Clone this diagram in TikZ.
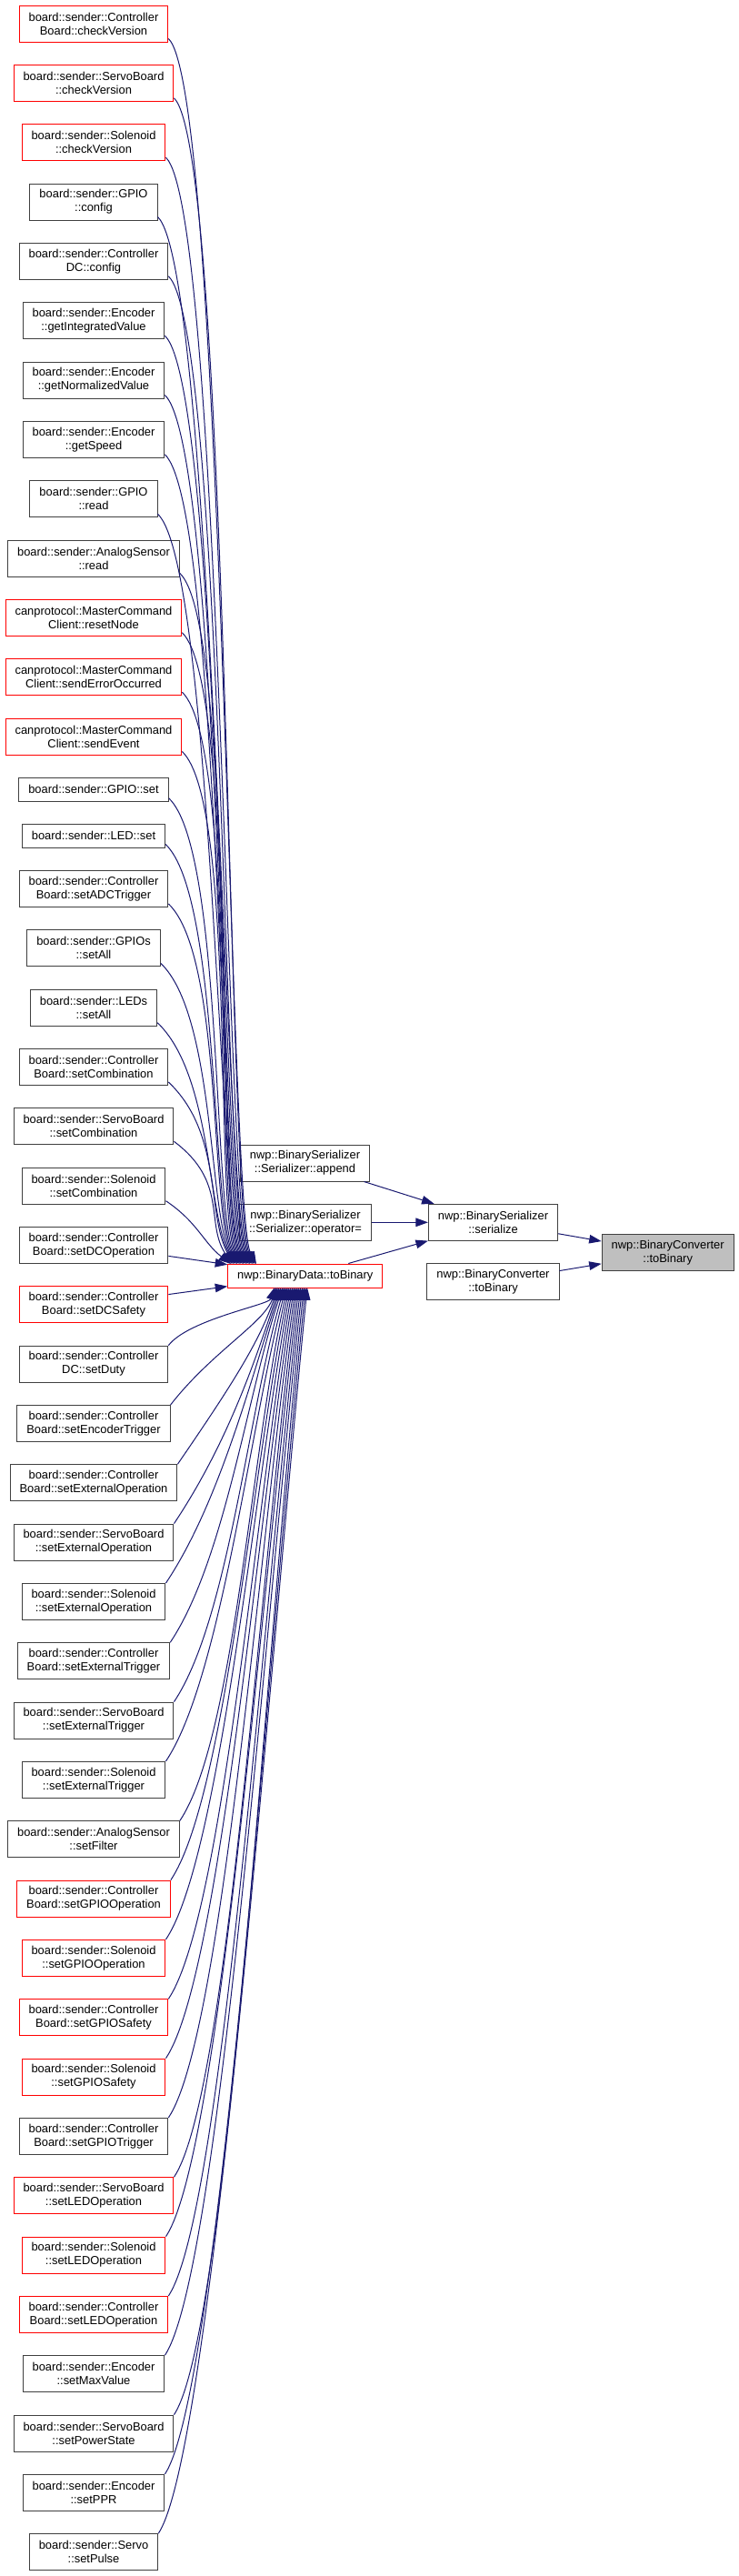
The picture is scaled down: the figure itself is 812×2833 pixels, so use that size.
\documentclass[tikz,border=0pt]{standalone}
\usepackage{fontspec}
\setmainfont{Liberation Sans}
\usepackage{tikz}
\usetikzlibrary{calc,arrows.meta}
\definecolor{edgeblue}{HTML}{191970}
\definecolor{boxgrey}{HTML}{404040}
\definecolor{curgrey}{HTML}{BFBFBF}

\begin{document}
\begin{tikzpicture}[x=1pt,y=-1pt,
  fn/.style={draw=boxgrey,line width=1pt,fill=white,align=center,inner xsep=10.5pt,inner ysep=2pt,
    minimum height=40pt,font=\fontsize{12.9}{15}\selectfont},
  fnred/.style={fn,draw=red},
  fnone/.style={fn,minimum height=26pt},
  fncur/.style={fn,fill=curgrey},
  call/.style={draw=edgeblue,line width=1pt,-{Triangle[length=13.5pt,width=9.5pt]}}]
  \useasboundingbox[fill=white] (0,0) rectangle (812,2833);
  % callers of nwp::BinaryData::toBinary
  \foreach \i/\y/\st/\txt in {
    1/26/fnred/{board::sender::Controller\\Board::checkVersion},
    2/91.3/fnred/{board::sender::ServoBoard\\::checkVersion},
    3/156.7/fnred/{board::sender::Solenoid\\::checkVersion},
    4/222/fn/{board::sender::GPIO\\::config},
    5/287.3/fn/{board::sender::Controller\\DC::config},
    6/352.7/fn/{board::sender::Encoder\\::getIntegratedValue},
    7/418/fn/{board::sender::Encoder\\::getNormalizedValue},
    8/483.3/fn/{board::sender::Encoder\\::getSpeed},
    9/548.7/fn/{board::sender::GPIO\\::read},
    10/614/fn/{board::sender::AnalogSensor\\::read},
    11/679.3/fnred/{canprotocol::MasterCommand\\Client::resetNode},
    12/744.7/fnred/{canprotocol::MasterCommand\\Client::sendErrorOccurred},
    13/810/fnred/{canprotocol::MasterCommand\\Client::sendEvent},
    14/868.3/fnone/{board::sender::GPIO::set},
    15/919/fnone/{board::sender::LED::set},
    16/977.5/fn/{board::sender::Controller\\Board::setADCTrigger},
    17/1042.8/fn/{board::sender::GPIOs\\::setAll},
    18/1108.2/fn/{board::sender::LEDs\\::setAll},
    19/1173.5/fn/{board::sender::Controller\\Board::setCombination},
    20/1238.8/fn/{board::sender::ServoBoard\\::setCombination},
    21/1304.2/fn/{board::sender::Solenoid\\::setCombination},
    22/1369.5/fn/{board::sender::Controller\\Board::setDCOperation},
    23/1434.8/fnred/{board::sender::Controller\\Board::setDCSafety},
    24/1500.1/fn/{board::sender::Controller\\DC::setDuty},
    25/1565.5/fn/{board::sender::Controller\\Board::setEncoderTrigger},
    26/1630.8/fn/{board::sender::Controller\\Board::setExternalOperation},
    27/1696.1/fn/{board::sender::ServoBoard\\::setExternalOperation},
    28/1761.5/fn/{board::sender::Solenoid\\::setExternalOperation},
    29/1826.8/fn/{board::sender::Controller\\Board::setExternalTrigger},
    30/1892.1/fn/{board::sender::ServoBoard\\::setExternalTrigger},
    31/1957.4/fn/{board::sender::Solenoid\\::setExternalTrigger},
    32/2022.8/fn/{board::sender::AnalogSensor\\::setFilter},
    33/2088.1/fnred/{board::sender::Controller\\Board::setGPIOOperation},
    34/2153.4/fnred/{board::sender::Solenoid\\::setGPIOOperation},
    35/2218.8/fnred/{board::sender::Controller\\Board::setGPIOSafety},
    36/2284.1/fnred/{board::sender::Solenoid\\::setGPIOSafety},
    37/2349.4/fn/{board::sender::Controller\\Board::setGPIOTrigger},
    38/2414.8/fnred/{board::sender::ServoBoard\\::setLEDOperation},
    39/2480.1/fnred/{board::sender::Solenoid\\::setLEDOperation},
    40/2545.4/fnred/{board::sender::Controller\\Board::setLEDOperation},
    41/2610.7/fn/{board::sender::Encoder\\::setMaxValue},
    42/2676.1/fn/{board::sender::ServoBoard\\::setPowerState},
    43/2741.4/fn/{board::sender::Encoder\\::setPPR},
    44/2806.7/fn/{board::sender::Servo\\::setPulse}}
    \node[\st] (c\i) at (103,\y) {\txt};
  % middle and right
  \node[fn] (ap) at (335.5,1279) {nwp::BinarySerializer\\::Serializer::append};
  \node[fn] (op) at (336,1344.3) {nwp::BinarySerializer\\::Serializer::operator=};
  \node[fnred,minimum height=26pt] (tb) at (335.8,1403) {nwp::BinaryData::toBinary};
  \node[fn] (sz) at (542.5,1344.3) {nwp::BinarySerializer\\::serialize};
  \node[fn] (cv) at (542.5,1409.7) {nwp::BinaryConverter\\::toBinary};
  \node[fncur] (tc) at (734.7,1377.7) {nwp::BinaryConverter\\::toBinary};
  % edges into toBinary from above (\n1 carries pt, so the y offsets are canvas: + is up)
  \foreach \i in {1,...,21}
    \draw[call] let \p1=([yshift=4pt]c\i.south east), \p2=({283.4-1.4*\i},1390), \n1={\y1-\y2} in
      (\p1) .. controls +({min(60,\n1/2)},{-min(57,\n1/3)}) and +({-min(30,\n1/2)},{min(55,\n1/3)}) .. (\p2);
  \draw[call] (c22) -- (tb);
  \draw[call] (c23) -- (tb);
  % edges into toBinary from below
  \foreach \i in {24,...,44}
    \draw[call] let \p1=(c\i.north east), \p2=({302+1.8*(\i-24)},1416), \n1={\y2-\y1} in
      (\p1) .. controls +({min(60,0.35*\n1)},{min(90,0.45*\n1)}) and +({-min(40,0.1*\n1)},{-min(400,0.3*\n1)}) .. (\p2);
  \draw[call] (ap) -- (sz);
  \draw[call] (op) -- (sz);
  \draw[call] (tb) -- (sz);
  \draw[call] (sz) -- (tc);
  \draw[call] (cv) -- (tc);
\end{tikzpicture}
\end{document}
